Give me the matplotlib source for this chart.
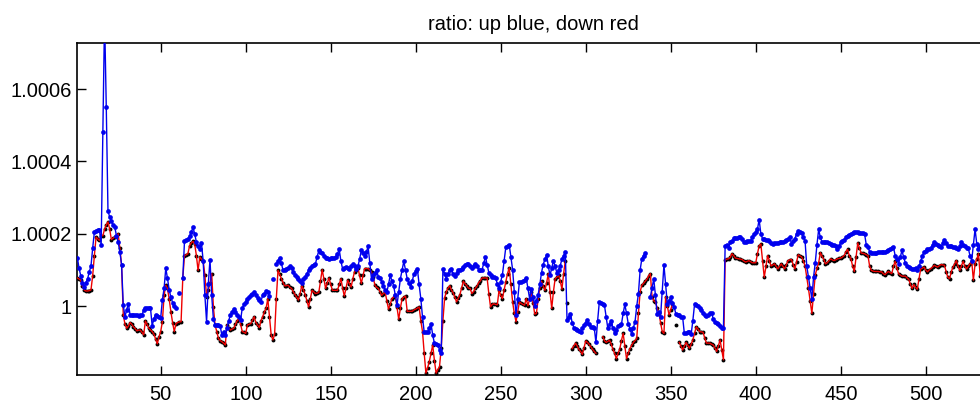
import numpy as np
import matplotlib
matplotlib.use("Agg")
import matplotlib.pyplot as plt
from matplotlib.ticker import FixedLocator, FormatStrFormatter

plt.rcParams['font.family'] = ['Liberation Sans', 'DejaVu Sans']

nan = np.nan

# ratio offsets from 1, in parts per million, one value per step (1..537)
up_ppm = [
    134, 105, 84, 65, 53, 65, 75, 95, 111, 160,
    205, 209, 210, 211, 168, 480, 800, 550, 264, 246,
    236, 225, 218, 195, 177, 150, 115, 3, -29, -10,
    7, -24, -25, -25, -25, -25, -26, -25, -25, -10,
    -5, -5, -4, -5, -54, -35, -23, -28, -30, -33,
    17, 49, 105, 77, 45, 25, 10, 0, -5, nan,
    37, nan, 77, 179, 183, 186, 193, 205, 218, 200,
    177, 165, 157, 175, 124, 30, -43, 60, 129, 30,
    -35, -52, -52, -52, -55, -80, -70, -80, -61, -40,
    -24, -15, -8, -15, -24, -30, -38, -5, 5, 12,
    20, 26, 32, 35, 38, 30, 23, 18, 12, 32,
    35, 41, 38, 27, nan, 74, nan, 117, 125, 134,
    118, 99, 101, 103, 105, 110, 106, 95, 87, 80,
    74, 70, 65, 75, 81, 90, 99, 105, 112, 115,
    117, 135, 154, 150, 147, 140, 133, 132, 131, 132,
    133, 134, 136, 145, 157, 125, 103, 105, 108, 105,
    103, 110, 117, 110, 103, 110, 130, 154, 148, 140,
    150, 165, 120, 75, 85, 92, 99, 82, 78, 68,
    57, 45, 39, 60, 85, 70, 57, 30, 3, 40,
    76, 100, 124, 100, 76, 65, 53, 70, 90, 97,
    103, 60, 21, -30, -72, -72, -72, -60, -48, -80,
    -102, -105, -107, -120, -130, 103, 90, 76, 90, 100,
    103, 90, 83, 92, 99, 101, 103, 108, 114, 116,
    117, 112, 106, 112, 117, 110, 101, 101, 101, 118,
    137, 115, 93, 86, 80, 80, 78, 62, 49, 68,
    87, 125, 163, 166, 170, 135, 101, 40, -24, 20,
    67, 68, 69, 72, 78, 50, 21, 47, 25, 1,
    15, 32, 60, 93, 115, 130, 142, 110, 85, 105,
    126, 110, 93, 100, 112, 130, 140, 150, -39, -30,
    -21, -45, -59, -62, -66, -68, -70, -60, -52, -45,
    -39, -50, -57, -58, -59, -100, -40, 12, 10, 5,
    3, -30, -61, -50, -41, -60, -75, -65, -54, -52,
    -50, -20, 5, -20, -48, -62, -77, -60, -43, 0,
    35, 100, 131, 140, 147, nan, nan, 26, 50, 76,
    30, -21, -16, -30, 40, 114, 60, 6, 15, 26,
    10, -2, -21, -24, -25, -29, -30, -75, -75, -70,
    -72, -78, -40, 5, 3, 1, -5, -11, -19, -25,
    -27, -25, -20, -18, -35, -43, -45, -50, -55, -59,
    -61, 167, 170, 160, 177, 180, 188, 188, 188, 190,
    191, 185, 177, 178, 181, 181, 181, 190, 200, 205,
    213, 239, 200, 186, 185, 184, 182, 179, 175, 172,
    174, 175, 176, 177, 178, 178, 179, 182, 186, 191,
    172, 180, 186, 200, 209, 205, 202, 190, 181, 111,
    80, 50, 21, 80, 120, 170, 212, 190, 177, 177,
    177, 177, 176, 172, 170, 168, 165, 157, 165, 177,
    180, 184, 190, 195, 198, 200, 202, 204, 204, 204,
    203, 202, 201, 200, 170, 163, 150, 147, 147, 147,
    148, 149, 149, 149, 150, 151, 153, 154, 157, 160,
    163, 140, 130, 117, 135, 154, 135, 120, 112, 108,
    105, 103, 104, 106, 101, 110, 124, 140, 149, 153,
    157, 158, 160, 170, 177, 172, 168, 165, 163, 175,
    184, 175, 165, 165, 165, 164, 163, 160, 157, 167,
    177, 170, 165, 162, 160, 140, 126, 170, 213, 172,
    158, 165, 170, 168, 165, 166, 165,
]

down_ppm = [
    78, 75, 72, 55, 45, 42, 42, 43, 45, 84,
    140, 191, 186, 182, 195, 195, 213, 225, 233, 213,
    184, 188, 191, 195, 200, 160, 113, -24, -50, -61,
    -55, -45, -50, -57, -62, -68, -66, -66, -72, -79,
    -41, -50, -61, -65, -70, -77, -90, -104, -85, -70,
    -43, 30, 58, 49, 20, -15, -45, -70, -48, -45,
    -43, -43, 77, 140, 142, 145, 167, 175, 179, 172,
    140, 99, 136, 130, 124, 86, 26, 45, 63, 90,
    -2, -52, -70, -89, -95, -98, -102, -107, -52, -60,
    -66, -63, -61, -50, -40, -34, -50, -70, -72, -75,
    -52, -50, -48, -38, -29, -45, -52, -59, -40, -29,
    -15, -6, 21, -30, -80, -93, -78, 20, 99, 88,
    76, 65, 56, 57, 58, 52, 49, 40, 32, 25,
    17, 35, 57, 45, 32, 15, -2, 20, 44, 40,
    35, 36, 38, 70, 101, 75, 49, 65, 78, 60,
    44, 44, 44, 44, 60, 76, 50, 28, 50, 72,
    62, 53, 75, 95, 100, 106, 85, 63, 85, 104,
    104, 104, 100, 95, 80, 58, 52, 49, 40, 30,
    35, 39, 15, -8, 5, 21, 25, 30, -3, -36,
    -5, 21, 25, 28, -14, -14, -14, -14, -10, -8,
    -5, -2, -40, -70, -130, -185, -170, -153, -130, -107,
    -150, -185, -175, -167, -116, -40, 23, 40, 50, 57,
    45, 37, 25, 12, 22, 32, 50, 69, 62, 57,
    50, 49, 35, 40, 49, 55, 65, 70, 78, 78,
    78, 78, 35, -2, 5, 7, 5, 4, 44, 30,
    21, 45, 67, 90, 106, 60, 12, -20, -43, -15,
    12, 8, 5, 3, 21, 1, 20, 38, 10, -22,
    -20, 20, 50, 69, 55, 44, 65, 90, 40, -6,
    40, 76, 80, 87, 70, 47, 90, 126, nan, nan,
    nan, -117, -110, -102, -110, -119, -125, -133, -115, -96,
    -100, -105, -112, -119, -125, -130, nan, nan, nan, -84,
    -95, -100, -97, -94, -105, -119, -130, -145, -130, -119,
    -95, -75, -110, -145, -130, -117, -108, -100, -95, -89,
    -20, 40, 58, 63, 69, 75, 84, 90, 26, 15,
    12, -5, -18, -45, -70, -75, 26, 0, -24, -10,
    7, nan, nan, nan, -100, -110, -121, -110, -100, -108,
    -116, -105, -93, -75, -57, -63, -70, -71, -72, -88,
    -102, -102, -102, -105, -107, -115, -125, -110, -93, -120,
    -148, 129, 130, 131, 135, 145, 140, 133, 132, 131,
    130, 129, 125, 122, 124, 126, 123, 120, 120, 120,
    145, 167, 172, 125, 80, 110, 140, 125, 111, 114,
    117, 110, 103, 110, 117, 110, 103, 115, 126, 128,
    129, 115, 103, 122, 142, 139, 136, 125, 111, 80,
    49, 15, -20, 35, 86, 105, 120, 148, 138, 129,
    117, 120, 125, 131, 128, 126, 128, 131, 132, 133,
    136, 140, 150, 157, 140, 131, 110, 96, 135, 175,
    160, 147, 146, 145, 142, 140, 110, 99, 97, 96,
    96, 96, 95, 95, 90, 87, 92, 96, 93, 90,
    110, 124, 105, 90, 86, 83, 83, 83, 78, 74,
    60, 49, 60, 52, 47, 75, 103, 105, 108, 100,
    95, 100, 104, 108, 113, 110, 108, 112, 115, 114,
    113, 95, 80, 76, 95, 108, 117, 126, 110, 99,
    112, 124, 110, 103, 110, 117, 126, 72, 117, 130,
    145, 84, 110, 120, 115, 118, 115,
]

# down points that appear only as dots (no line through them)
lone_down_steps = [289, 353]
lone_down_ppm = [10, -52]

x_ticks = [50, 100, 150, 200, 250, 300, 350, 400, 450, 500]
y_ticks = [1.0, 1.0002, 1.0004, 1.0006]

steps = np.arange(1, len(up_ppm) + 1)
up = 1 + np.array(up_ppm, dtype=float) * 1e-6
down = 1 + np.array(down_ppm, dtype=float) * 1e-6
dots = down.copy()
for s, v in zip(lone_down_steps, lone_down_ppm):
    dots[s - 1] = 1 + v * 1e-6

fig = plt.figure(figsize=(9.8, 4.08), dpi=100)
# the axes run past the right edge of the picture, as in the original
ax = fig.add_axes([0.0786, 0.0809, 0.9306, 0.8145])

ax.plot(steps, dots, 'o', color='black', ms=2.8, mew=0, zorder=2)
ax.plot(steps, down, '-', color='#ee0000', lw=1.0, zorder=3)
ax.plot(steps, up, '-o', color='#0000ee', lw=1.0, ms=3.4, mew=0, zorder=4)

ax.set_xlim(0.8, 537.2)
ax.set_ylim(1 - 0.000190, 1 + 0.000728)
ax.xaxis.set_major_locator(FixedLocator(x_ticks))
ax.yaxis.set_major_locator(FixedLocator(y_ticks))
ax.yaxis.set_major_formatter(FormatStrFormatter('%g'))

ax.tick_params(direction='in', length=6.5, width=1, top=True, right=True,
               labelsize=14.5)
ax.tick_params(axis='x', pad=7)
ax.tick_params(axis='y', pad=4)
for sp in ax.spines.values():
    sp.set_linewidth(1.2)

ax.set_title('ratio: up blue, down red', fontsize=14.5, pad=9)

fig.savefig('out.png', dpi=100)
